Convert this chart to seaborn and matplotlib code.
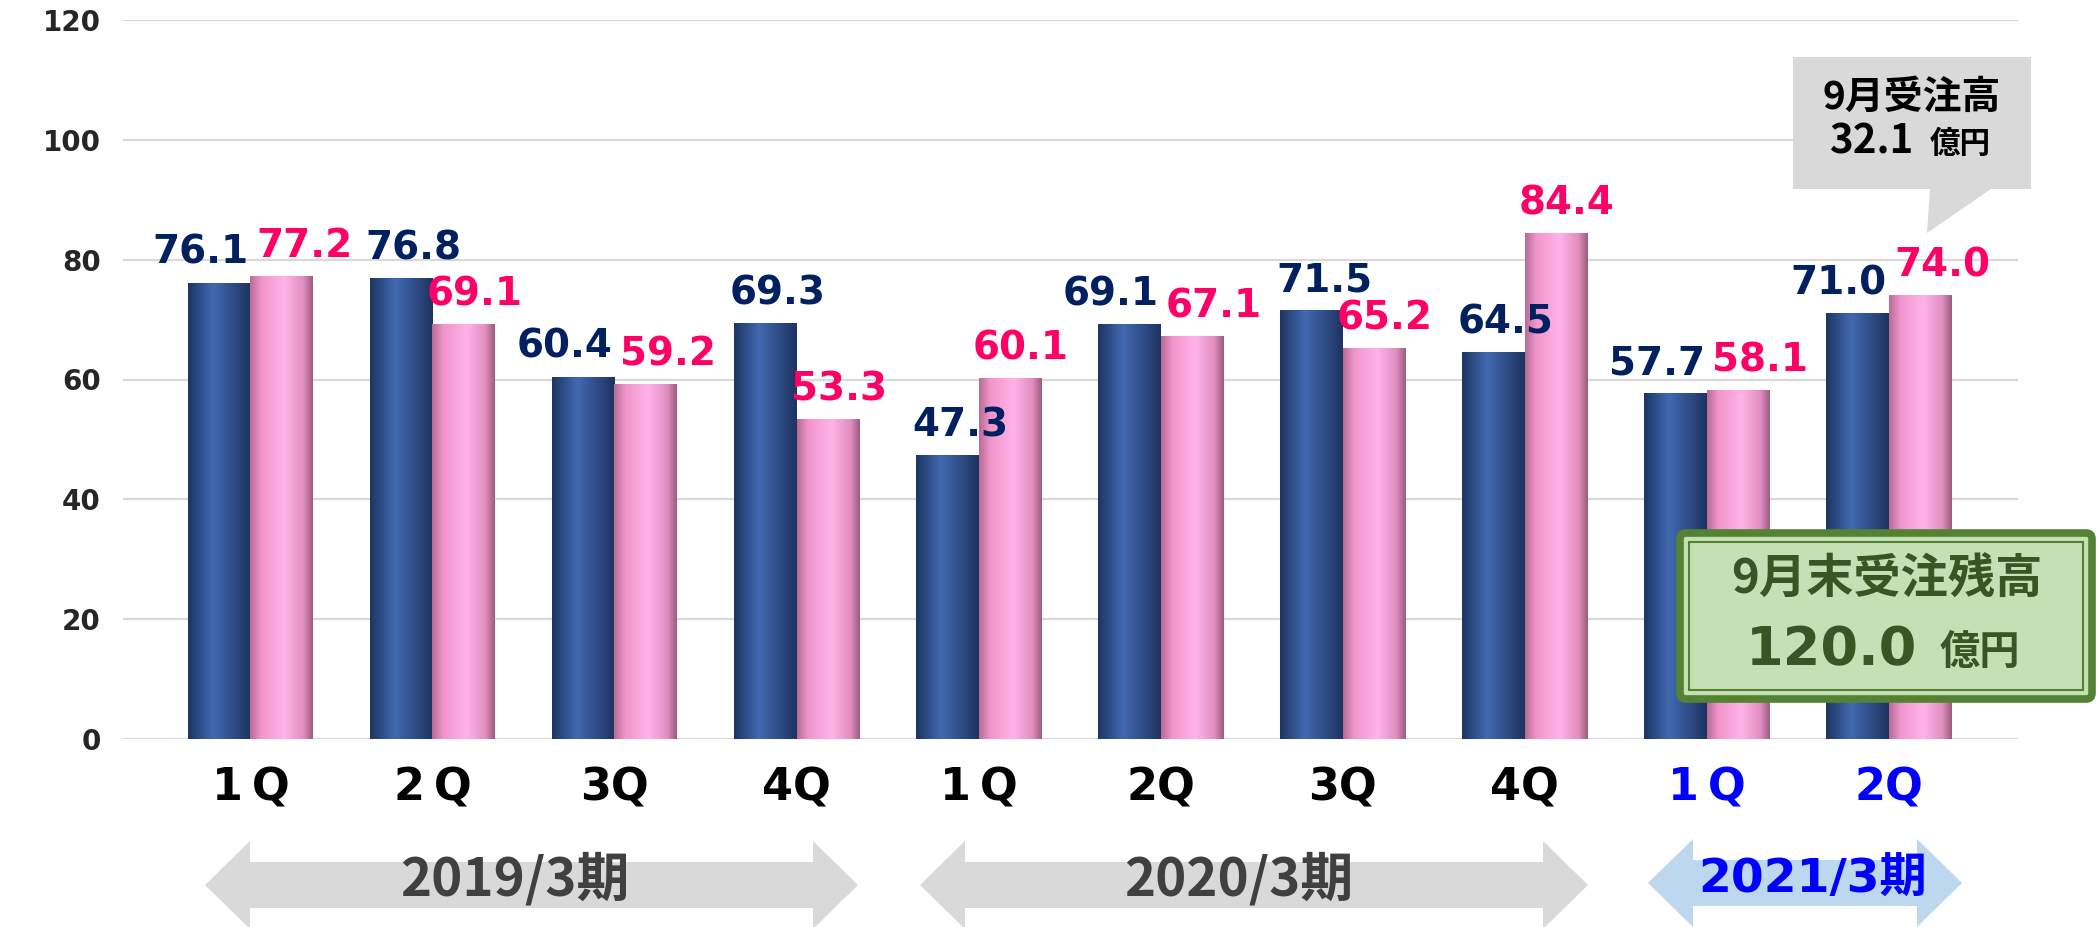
import numpy as np
import pandas as pd
import matplotlib.pyplot as plt
from matplotlib.colors import LinearSegmentedColormap
from matplotlib.patches import Polygon, Rectangle, FancyBboxPatch
import seaborn as sns

# Data
periods = ["2019/3期"] * 4 + ["2020/3期"] * 4 + ["2021/3期"] * 2
quarters = ["1Q", "2Q", "3Q", "4Q", "1Q", "2Q", "3Q", "4Q", "1Q", "2Q"]
tick_labels = ["1\u2009Q", "2\u2009Q", "3Q", "4Q", "1\u2009Q", "2Q", "3Q", "4Q", "1\u2009Q", "2Q"]
orders = [76.1, 76.8, 60.4, 69.3, 47.3, 69.1, 71.5, 64.5, 57.7, 71.0]
sales = [77.2, 69.1, 59.2, 53.3, 60.1, 67.1, 65.2, 84.4, 58.1, 74.0]
series_names = ["受注高", "売上高"]
period_names = ["2019/3期", "2020/3期", "2021/3期"]
sep_orders = "9月受注高"
sep_orders_value = "32.1"
backlog_title = "9月末受注残高"
backlog_value = "120.0"

keys = [p + " " + q for p, q in zip(periods, quarters)]
df = pd.DataFrame({
    "key": keys * 2,
    "series": [series_names[0]] * len(keys) + [series_names[1]] * len(keys),
    "value": orders + sales,
})

# Style
sns.set_style("white")
plt.rcParams["font.family"] = ["DejaVu Sans", "Noto Sans CJK JP"]
CJK = ["Noto Sans CJK JP", "DejaVu Sans"]

W, H = 2098, 927
fig = plt.figure(figsize=(W / 100, H / 100), dpi=100)
ax = fig.add_axes([123 / W, 1 - 739 / H, (2018 - 123) / W, (739 - 20) / H])

navy_cm = LinearSegmentedColormap.from_list(
    "navy", [(0, "#1D3563"), (0.4, "#4269B1"), (1, "#1D3360")])
pink_cm = LinearSegmentedColormap.from_list(
    "pink", [(0, "#B56C93"), (0.18, "#F295CC"), (0.55, "#FFB3E8"),
             (0.85, "#E28EC0"), (1, "#9C5B7E")])

sns.barplot(data=df, x="key", y="value", hue="series", order=keys,
            hue_order=series_names, palette=["#2F4F8F", "#F7A3D6"],
            width=0.69, gap=0, errorbar=None, legend=False, ax=ax)

# gradient fill for each bar
grad = np.linspace(0, 1, 256)[None, :]
for cont, cm in zip(ax.containers, [navy_cm, pink_cm]):
    for bar in cont:
        x0, w, h = bar.get_x(), bar.get_width(), bar.get_height()
        ax.imshow(grad, cmap=cm, extent=(x0, x0 + w, 0, h), aspect="auto",
                  zorder=3, interpolation="bicubic")
        bar.set_facecolor("none")
        bar.set_edgecolor("none")

# value labels
navy_txt, pink_txt = "#002060", "#FF0066"
for nb, pb in zip(ax.containers[0], ax.containers[1]):
    mid = nb.get_x() + nb.get_width()
    a, b = nb.get_height(), pb.get_height()
    if abs(a - b) < 3.5:
        pos = [(mid - 0.01, "right"), (mid + 0.03, "left")]
    else:
        pos = [(nb.get_x() + nb.get_width() / 2 + 0.07, "center"),
               (pb.get_x() + pb.get_width() / 2 + 0.06, "center")]
    for val, (x, ha), col in zip([a, b], pos, [navy_txt, pink_txt]):
        ax.annotate(f"{val:.1f}", (x, val), xytext=(0, 8),
                    textcoords="offset points", ha=ha, va="bottom",
                    fontsize=28, fontweight="bold", color=col, zorder=5)

ax.set_xlim(-0.7, 9.71)
ax.set_ylim(0, 120)
ax.set_yticks(range(0, 121, 20))
ax.yaxis.grid(True, color="#D9D9D9", lw=1.6)
ax.set_axisbelow(True)
for s in ax.spines.values():
    s.set_visible(False)
ax.set_xlabel("")
ax.set_ylabel("")
ax.set_xticks(range(len(keys)))
ax.set_xticklabels(tick_labels, fontsize=32, fontweight="bold")
for i, t in enumerate(ax.get_xticklabels()):
    t.set_color("#0000FF" if periods[i] == period_names[2] else "black")
ax.tick_params(axis="x", length=0, pad=20)
ax.tick_params(axis="y", length=0, pad=16, labelsize=20)
for t in ax.get_yticklabels():
    t.set_fontweight("bold")

# overlay in pixel units for callouts and period arrows
ov = fig.add_axes([0, 0, 1, 1], zorder=5)
ov.set_xlim(0, W)
ov.set_ylim(H, 0)
ov.axis("off")
ov.patch.set_alpha(0)


def double_arrow(x0, x1, yc, color, head=45, head_h=44, shaft_h=23):
    pts = [(x0, yc), (x0 + head, yc - head_h), (x0 + head, yc - shaft_h),
           (x1 - head, yc - shaft_h), (x1 - head, yc - head_h), (x1, yc),
           (x1 - head, yc + head_h), (x1 - head, yc + shaft_h),
           (x0 + head, yc + shaft_h), (x0 + head, yc + head_h)]
    ov.add_patch(Polygon(pts, closed=True, fc=color, ec="none"))


double_arrow(205, 858, 885, "#D9D9D9")
double_arrow(920, 1588, 885, "#D9D9D9")
double_arrow(1648, 1962, 883, "#BDD7EE")
ov.text(515, 880, period_names[0], ha="center", va="center", fontsize=38,
        fontweight="bold", color="#404040", family=CJK)
ov.text(1239, 880, period_names[1], ha="center", va="center", fontsize=38,
        fontweight="bold", color="#404040", family=CJK)
ov.text(1813, 880, period_names[2], ha="center", va="center", fontsize=34,
        fontweight="bold", color="#0000FF",
        family=["DejaVu Sans", "Noto Sans CJK JP"])

# gray speech bubble
bubble = [(1793, 57), (2031, 57), (2031, 189), (1991, 189), (1927, 233),
          (1930, 189), (1793, 189)]
ov.add_patch(Polygon(bubble, closed=True, fc="#D9D9D9", ec="none"))
ov.text(1912, 97, sep_orders, ha="center", va="center", fontsize=28,
        fontweight="bold", color="black", family=CJK)
ov.text(1913, 142, sep_orders_value, ha="right", va="center", fontsize=29,
        fontweight="bold", color="black", family=CJK)
ov.text(1930, 144, "億円", ha="left", va="center", fontsize=22,
        fontweight="bold", color="black", family=CJK)

# green backlog box
green_dark, green_txt = "#548235", "#375623"
ov.add_patch(FancyBboxPatch((1680, 533), 412, 166,
                            boxstyle="round,pad=0,rounding_size=6",
                            fc="#C5E0B4", ec=green_dark, lw=5.5))
ov.add_patch(Rectangle((1689, 542), 394, 148, fc="none", ec=green_dark, lw=1.5))
ov.text(1887, 580, backlog_title, ha="center", va="center", fontsize=34,
        fontweight="bold", color=green_txt, family=CJK)
ov.text(1917, 650, backlog_value, ha="right", va="center", fontsize=39,
        fontweight="bold", color=green_txt)
ov.text(1940, 652, "億円", ha="left", va="center", fontsize=29,
        fontweight="bold", color=green_txt, family=CJK)

fig.savefig("out.png", dpi=100)
